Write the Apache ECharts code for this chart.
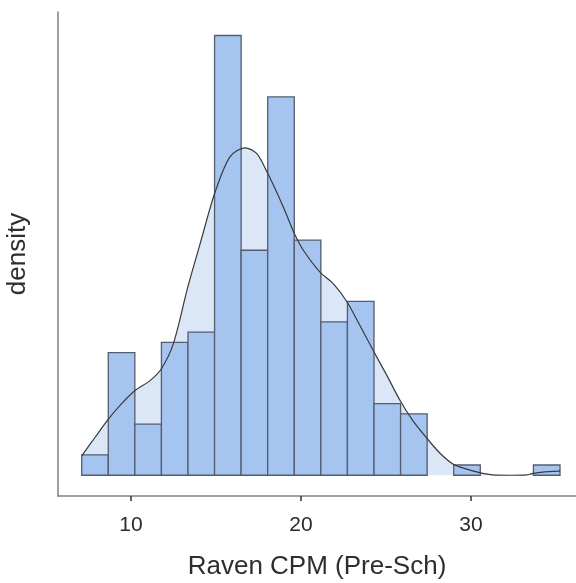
<!DOCTYPE html>
<html>
<head>
<meta charset="utf-8">
<script src="https://cdn.jsdelivr.net/npm/echarts@6/dist/echarts.min.js"></script>
<style>html,body{margin:0;padding:0;background:#fff}#c{width:576px;height:583px}</style>
</head>
<body>
<div id="c"></div>
<script>
// Histogram bins (Raven CPM, Pre-Sch)
const binStart = 7.1;
const binWidth = 1.5633;
const counts = [2, 12, 5, 13, 14, 43, 22, 37, 23, 15, 17, 7, 6, 0, 1, 0, 0, 1];

// Density curve (same units as counts)
const densityX = [7.10, 7.88, 8.67, 9.45, 10.22, 11.12, 11.78, 12.49, 13.34, 14.06, 14.92, 15.82, 16.71, 17.39, 18.00, 18.96, 19.61, 20.14, 21.12, 21.90, 22.72, 23.47, 24.25, 25.06, 25.84, 26.59, 27.37, 28.18, 28.96, 29.70, 30.51, 31.29, 32.30, 33.28, 33.59, 34.35, 35.24];
const densityY = [1.89, 3.69, 5.49, 7.0, 8.26, 9.25, 10.39, 12.84, 18.39, 22.6, 27.55, 31.14, 32.02, 31.47, 29.67, 26.24, 23.63, 22.0, 19.86, 18.73, 16.92, 14.64, 12.19, 9.74, 7.28, 5.32, 3.69, 2.15, 1.08, 0.62, 0.25, 0.03, 0.0, 0.03, 0.16, 0.32, 0.42];

const xTicks = [10, 20, 30];

const bars = counts.map((c, i) => [binStart + i * binWidth, binStart + (i + 1) * binWidth, c]).filter(d => d[2] > 0);
const dens = densityX.map((x, i) => [x, densityY[i]]);

const chart = echarts.init(document.getElementById('c'), null, {renderer: 'canvas'});
chart.setOption({
  animation: false,
  grid: {left: 58, right: 0, top: 12, bottom: 87, containLabel: false, outerBoundsMode: 'none'},
  xAxis: {
    type: 'value', min: 5.706, max: 36.18,
    name: 'Raven CPM (Pre-Sch)', nameLocation: 'middle', nameGap: 58,
    nameTextStyle: {fontFamily: 'Liberation Sans', fontSize: 26, color: '#2e2e2e'},
    axisLine: {show: true, onZero: false, lineStyle: {color: '#808080', width: 1.5}},
    axisTick: {show: true, length: 5, customValues: xTicks, lineStyle: {color: '#333', width: 1.5}},
    axisLabel: {customValues: xTicks, margin: 19, fontFamily: 'Liberation Sans', fontSize: 21, color: '#2a2a2a'},
    splitLine: {show: false}
  },
  yAxis: {
    type: 'value', min: -2.03, max: 45.3,
    name: 'density', nameLocation: 'middle', nameGap: 27,
    nameTextStyle: {fontFamily: 'Liberation Sans', fontSize: 26, color: '#2e2e2e'},
    axisLine: {show: true, onZero: false, lineStyle: {color: '#808080', width: 1.5}},
    axisTick: {show: false}, axisLabel: {show: false}, splitLine: {show: false}
  },
  series: [
    {
      type: 'line', data: dens, smooth: 0.3, symbol: 'none', z: 1,
      lineStyle: {width: 0},
      areaStyle: {color: '#dbe7f7', opacity: 1, origin: 0}
    },
    {
      type: 'custom', z: 2, data: bars,
      renderItem: function (params, api) {
        const p0 = api.coord([api.value(0), api.value(2)]);
        const p1 = api.coord([api.value(1), 0]);
        return {
          type: 'rect',
          shape: {x: p0[0], y: p0[1], width: p1[0] - p0[0], height: p1[1] - p0[1]},
          style: {fill: '#a6c4f0', stroke: '#525d6e', lineWidth: 1.3}
        };
      }
    },
    {
      type: 'line', data: dens, smooth: 0.3, symbol: 'none', z: 3,
      lineStyle: {width: 1.2, color: '#3a3a3a'}
    }
  ]
});
</script>
</body>
</html>
